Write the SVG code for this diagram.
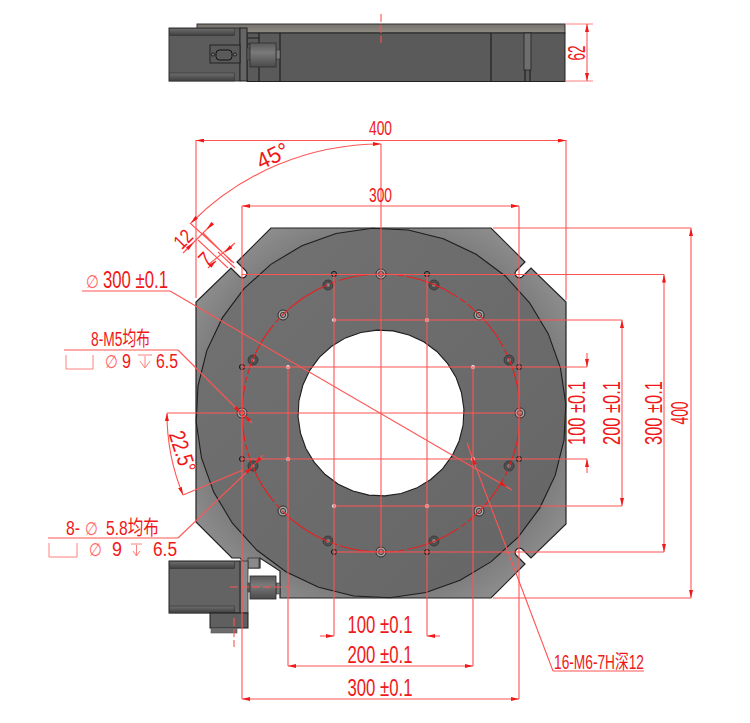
<svg xmlns="http://www.w3.org/2000/svg" width="750" height="723" viewBox="0 0 750 723">
<style>
.t{font-family:"Liberation Sans","Noto Sans CJK SC",sans-serif;font-size:20px;fill:#f01818}
.l{font-size:23px}
.c{text-anchor:middle}
.p{font-family:"DejaVu Sans",sans-serif;font-size:18px;fill:#ff6a6a}
.d{fill:none;stroke:#ff5454;stroke-width:1.1}
.m{marker-end:url(#a)}
.b{marker-start:url(#a);marker-end:url(#a)}
.s{fill:none;stroke:#ff8080;stroke-width:1}
.k{fill:none;stroke:#1c1c1c;stroke-width:1.1}
.ring{fill:#a5a5a5;stroke:#222;stroke-width:.9}
.ringi{fill:#9a9a9a;stroke:#222;stroke-width:.8}
.dk{fill:#505050;stroke:#333;stroke-width:.8}
.dki{fill:#8a8a8a;stroke:#333;stroke-width:.5}
.o{fill:#666;stroke:#111;stroke-width:.9}
.w{fill:#eee;stroke:#555;stroke-width:.8}
</style>
<defs>
<marker id="a" viewBox="0 0 8 4" refX="8" refY="2" markerWidth="8" markerHeight="4" markerUnits="userSpaceOnUse" orient="auto-start-reverse"><path d="M0 0L8 2L0 4z" fill="#f01818"/></marker>
<radialGradient id="pl" gradientUnits="userSpaceOnUse" cx="381" cy="413" r="265"><stop offset=".68" stop-color="#7c7c7c"/><stop offset="1" stop-color="#a6a6a6"/></radialGradient>
<linearGradient id="dc" x1="0" y1="0" x2="1" y2="1"><stop offset="0" stop-color="#727272"/><stop offset="1" stop-color="#656565"/></linearGradient>
<linearGradient id="band" x1="0" y1="0" x2="0" y2="1"><stop offset="0" stop-color="#6e6e6e"/><stop offset="1" stop-color="#3f3f3f"/></linearGradient>
<linearGradient id="cp" x1="0" y1="0" x2="0" y2="1"><stop offset="0" stop-color="#5a5a5a"/><stop offset=".4" stop-color="#7a7a7a"/><stop offset="1" stop-color="#4a4a4a"/></linearGradient>
<linearGradient id="top" x1="0" y1="0" x2="0" y2="1"><stop offset="0" stop-color="#74716c"/><stop offset="1" stop-color="#8f8c86"/></linearGradient>
</defs>

<g id="top-view">
<rect x="197" y="24" width="368" height="9" fill="url(#top)" stroke="#333" stroke-width="1"/>
<rect x="247" y="33" width="318" height="48.500" fill="#5a5a5a" stroke="#222" stroke-width="1"/>
<path d="M280 33V81M491 33V81" class="k"/>
<rect x="524" y="33" width="7" height="37" fill="#6e6e6e" stroke="#222" stroke-width=".8"/>
<path d="M525 70V81M530 70V81" class="k"/>
<path d="M248 38H259V81M259 38V33M248 44H258" class="k" stroke-width=".8"/>
<rect x="169" y="28" width="71" height="53" fill="#5c5c5c" stroke="#333" stroke-width="1"/>
<rect x="169.500" y="28.500" width="65" height="7" fill="url(#band)" stroke="#333" stroke-width=".6"/>
<rect x="169.500" y="73" width="65" height="8" fill="url(#band)" stroke="#333" stroke-width=".6"/>
<rect x="240" y="28" width="7" height="53" fill="#656565" stroke="#222" stroke-width="1"/>
<rect x="210" y="45" width="30" height="18" fill="#5a5a5a" stroke="#222" stroke-width="1"/>
<rect x="216" y="50" width="16" height="10" rx="3.500" fill="#5a5a5a" stroke="#111" stroke-width="1"/>
<circle cx="213" cy="54.500" r="1.600" fill="#777" stroke="#111" stroke-width=".8"/>
<circle cx="235" cy="54.500" r="1.600" fill="#777" stroke="#111" stroke-width=".8"/>
<rect x="276" y="50" width="4" height="9" fill="#7c7c7c" stroke="#333" stroke-width=".6"/>
<rect x="247" y="48" width="4" height="12" fill="#555" stroke="#333" stroke-width=".6"/>
<rect x="250" y="43" width="26" height="24" fill="url(#cp)" stroke="#333" stroke-width=".9"/>
</g>

<g id="plate">
<path d="M271 228H491L525 262L516 271A4.300 4.300 0 0 0 522 277L531 268L566 302V524L531 558L522 549A4.300 4.300 0 0 0 516 555L525 564L491 598H280V571L260 558V568H248L240 558H232L196 522V302L231 268L240 277A4.300 4.300 0 0 0 246 271L237 262Z" fill="url(#pl)" stroke="#222" stroke-width="1.200"/>
<rect x="248" y="558" width="11" height="10" fill="#8a8a8a" stroke="#333" stroke-width=".8"/>
</g>

<g id="disc">
<path fill="url(#dc)" stroke="#1d1d1d" stroke-width="1.100" d="M390 597.800L425.900 592.500L460.100 580.300L491.200 561.600L518 537.300L539.700 508.100L555.200 475.400L564 440.200L565.800 404L560.500 368.100L548.300 333.900L529.600 302.800L505.300 276L476.100 254.300L443.400 238.800L408.200 230L372 228.200L336.100 233.500L301.900 245.700L270.800 264.400L244 288.700L222.300 317.900L206.800 350.600L198 385.800L196.200 422L201.500 457.900L213.700 492.100L232.400 523.200L256.700 550L285.900 571.700L318.600 587.200L353.800 596Z"/>
<path fill="#fff" stroke="#1d1d1d" stroke-width="1.100" d="M385 495.900L401.100 493.500L416.500 488.100L430.400 479.700L442.500 468.800L452.200 455.700L459.100 441L463.100 425.200L463.900 409L461.500 392.900L456.100 377.500L447.700 363.600L436.800 351.500L423.700 341.800L409 334.900L393.200 330.900L377 330.100L360.900 332.500L345.500 337.900L331.600 346.300L319.500 357.200L309.800 370.300L302.900 385L298.900 400.800L298.100 417L300.500 433.100L305.900 448.500L314.300 462.400L325.200 474.500L338.300 484.200L353 491.100L368.800 495.100Z"/>
</g>

<g id="holes">
<g id="ring-holes">
<circle cx="381" cy="274" r="5" class="ring"/><circle cx="381" cy="274" r="2.600" class="ringi"/>
<circle cx="479" cy="315" r="5" class="ring"/><circle cx="479" cy="315" r="2.600" class="ringi"/>
<circle cx="520" cy="413" r="5" class="ring"/><circle cx="520" cy="413" r="2.600" class="ringi"/>
<circle cx="479" cy="511" r="5" class="ring"/><circle cx="479" cy="511" r="2.600" class="ringi"/>
<circle cx="381" cy="552" r="5" class="ring"/><circle cx="381" cy="552" r="2.600" class="ringi"/>
<circle cx="283" cy="511" r="5" class="ring"/><circle cx="283" cy="511" r="2.600" class="ringi"/>
<circle cx="242" cy="413" r="5" class="ring"/><circle cx="242" cy="413" r="2.600" class="ringi"/>
<circle cx="283" cy="315" r="5" class="ring"/><circle cx="283" cy="315" r="2.600" class="ringi"/>
</g>
<g id="counterbore-holes">
<circle cx="434" cy="285" r="5" class="dk"/><circle cx="434" cy="285" r="2.300" class="dki"/>
<circle cx="509" cy="360" r="5" class="dk"/><circle cx="509" cy="360" r="2.300" class="dki"/>
<circle cx="509" cy="466" r="5" class="dk"/><circle cx="509" cy="466" r="2.300" class="dki"/>
<circle cx="434" cy="541" r="5" class="dk"/><circle cx="434" cy="541" r="2.300" class="dki"/>
<circle cx="328" cy="541" r="5" class="dk"/><circle cx="328" cy="541" r="2.300" class="dki"/>
<circle cx="253" cy="466" r="5" class="dk"/><circle cx="253" cy="466" r="2.300" class="dki"/>
<circle cx="253" cy="360" r="5" class="dk"/><circle cx="253" cy="360" r="2.300" class="dki"/>
<circle cx="328" cy="285" r="5" class="dk"/><circle cx="328" cy="285" r="2.300" class="dki"/>
</g>
<g id="grid-holes">
<circle cx="334" cy="274" r="2.600" class="o"/><circle cx="427" cy="274" r="2.600" class="o"/>
<circle cx="242" cy="367" r="2.600" class="o"/><circle cx="519" cy="367" r="2.600" class="o"/>
<circle cx="242" cy="459" r="2.600" class="o"/><circle cx="519" cy="459" r="2.600" class="o"/>
<circle cx="334" cy="552" r="2.600" class="o"/><circle cx="427" cy="552" r="2.600" class="o"/>
<circle cx="334" cy="320" r="2.500" class="w"/><circle cx="427" cy="320" r="2.500" class="w"/>
<circle cx="288" cy="367" r="2.500" class="w"/><circle cx="473" cy="367" r="2.500" class="w"/>
<circle cx="288" cy="459" r="2.500" class="w"/><circle cx="473" cy="459" r="2.500" class="w"/>
<circle cx="334" cy="506" r="2.500" class="w"/><circle cx="427" cy="506" r="2.500" class="w"/>
</g>
</g>

<g id="motor">
<rect x="240" y="561" width="8" height="52" fill="#8a8a8a" stroke="#333" stroke-width=".8"/>
<rect x="169" y="561" width="71" height="52" fill="#636363" stroke="#222" stroke-width="1"/>
<rect x="169.500" y="561.500" width="65" height="7" fill="url(#band)" stroke="#333" stroke-width=".6"/>
<rect x="169.500" y="606" width="65" height="7" fill="url(#band)" stroke="#333" stroke-width=".6"/>
<rect x="210" y="613" width="38" height="15" fill="#5f5f5f" stroke="#1c1c1c" stroke-width="1"/>
<rect x="211" y="628" width="26" height="5" fill="#6d6d6d" stroke="#555" stroke-width=".6"/>
<rect x="248" y="583" width="3" height="9" fill="#666" stroke="#333" stroke-width=".6"/>
<rect x="276" y="583" width="4" height="11" fill="#777" stroke="#333" stroke-width=".6"/>
<rect x="250" y="576" width="26" height="23" fill="url(#cp)" stroke="#333" stroke-width=".9"/>
</g>

<g id="connectors">
<path class="d" stroke-dasharray="8 3" d="M381 14V43"/>
<path class="s" d="M566 24H593M566 81H593"/>
<path class="d b" d="M587 24V81"/>
<circle cx="381" cy="413" r="139" fill="none" stroke="#ee1c1c" stroke-width="1.100" stroke-dasharray="56 3 6 3"/>
<path class="d" d="M196 140V298M566 140V300M381 144V552M167 413H519M493 228H691M493 598H691M242 274.500H664M334 552H664M334 320H622M334 506H622M242 367H587M242 459H587M334 274V636M427 274V636M288 367V666M473 367V666M242 206V699M519 206V699"/>
<path class="d b" d="M196 140.500H566"/>
<path class="d b" d="M242 206H519"/>
<path class="d m" d="M587 353V367"/>
<path class="d m" d="M587 473V459"/>
<path class="d b" d="M622 320V506"/>
<path class="d b" d="M664 274.500V552"/>
<path class="d b" d="M691 228V598"/>
<path class="d m" d="M320 636H334"/>
<path class="d m" d="M440 636H427"/>
<path class="d b" d="M288 666H473"/>
<path class="d b" d="M242 699H519"/>
<path class="d b" d="M191 223A268.700 268.700 0 0 1 381 144"/>
<path class="d b" d="M167 413A214 214 0 0 0 183 495"/>
<path class="d" d="M183 495L243 470"/>
<path class="d" d="M190 223L234 263M203 233L232 262M198 240L228 268M218 252L235 268"/>
<path class="d" d="M183 253L213 223M208 265L235 243"/>
<path class="d m" d="M186 250L193 243"/>
<path class="d m" d="M213 223L207 229"/>
<path class="d m" d="M208 268L216 261"/>
<path class="d m" d="M233 245L225 252"/>
<path class="d m" d="M170 291L507 487"/>
<path class="d" d="M82 291H170M507 487L512 490"/>
<path class="d" d="M64 350H178"/>
<path class="d m" d="M178 350L241 413"/>
<path class="d m" d="M252 423L244 415"/>
<path class="d" d="M48 538H178"/>
<path class="d m" d="M178 538L252 467"/>
<path class="d m" d="M263 455L255 464"/>
<path class="d" d="M644 671H553"/>
<path class="d m" d="M553 671L472 457"/>
<path class="d" d="M472 457L467 443"/>
<path class="d" stroke-dasharray="8 3" d="M230 587H289M234 618V647"/>
<path class="s" d="M66 355V369H93V355M49 543V557H77V543M138 355H152M145 356V368M140 361L145 368L150 361M131 544H142M136.500 545V556M133 551L136.500 556L140 551"/>
</g>

<g id="labels">
<text class="t c" x="380.500" y="135" textLength="23" lengthAdjust="spacingAndGlyphs">400</text>
<text class="t c" x="380.500" y="202" textLength="23" lengthAdjust="spacingAndGlyphs">300</text>
<text class="t l c" transform="translate(276 163) rotate(-25)" textLength="33" lengthAdjust="spacingAndGlyphs">45°</text>
<text class="t c" transform="translate(188 244) rotate(-45)" textLength="18" lengthAdjust="spacingAndGlyphs">12</text>
<text class="t c" transform="translate(210 264) rotate(-45)" textLength="10" lengthAdjust="spacingAndGlyphs">7</text>
<text class="p" x="86" y="288" textLength="13" lengthAdjust="spacingAndGlyphs">∅</text>
<text class="t l" x="103" y="288" textLength="65" lengthAdjust="spacingAndGlyphs">300 ±0.1</text>
<text class="t" x="91" y="346" textLength="59" lengthAdjust="spacingAndGlyphs">8-M5均布</text>
<text class="p" x="105" y="368" textLength="13" lengthAdjust="spacingAndGlyphs">∅</text>
<text class="t" x="122" y="368" textLength="9" lengthAdjust="spacingAndGlyphs">9</text>
<text class="t" x="156" y="368" textLength="22" lengthAdjust="spacingAndGlyphs">6.5</text>
<text class="t l c" transform="translate(175 454) rotate(72)" textLength="42" lengthAdjust="spacingAndGlyphs">22.5°</text>
<text class="t" x="66" y="535" textLength="14" lengthAdjust="spacingAndGlyphs">8-</text>
<text class="p" x="85" y="535" textLength="13" lengthAdjust="spacingAndGlyphs">∅</text>
<text class="t" x="106" y="535" textLength="53" lengthAdjust="spacingAndGlyphs">5.8均布</text>
<text class="p" x="89" y="556" textLength="13" lengthAdjust="spacingAndGlyphs">∅</text>
<text class="t" x="112" y="556" textLength="10" lengthAdjust="spacingAndGlyphs">9</text>
<text class="t" x="153" y="556" textLength="24" lengthAdjust="spacingAndGlyphs">6.5</text>
<text class="t l c" transform="translate(585 53) rotate(-90)" textLength="15" lengthAdjust="spacingAndGlyphs">62</text>
<text class="t l c" transform="translate(585 413) rotate(-90)" textLength="64" lengthAdjust="spacingAndGlyphs">100 ±0.1</text>
<text class="t l c" transform="translate(620 413) rotate(-90)" textLength="64" lengthAdjust="spacingAndGlyphs">200 ±0.1</text>
<text class="t l c" transform="translate(662 413) rotate(-90)" textLength="64" lengthAdjust="spacingAndGlyphs">300 ±0.1</text>
<text class="t l c" transform="translate(688 413) rotate(-90)" textLength="23" lengthAdjust="spacingAndGlyphs">400</text>
<text class="t l c" x="380" y="633" textLength="65" lengthAdjust="spacingAndGlyphs">100 ±0.1</text>
<text class="t l c" x="380" y="663" textLength="65" lengthAdjust="spacingAndGlyphs">200 ±0.1</text>
<text class="t l c" x="380" y="696" textLength="65" lengthAdjust="spacingAndGlyphs">300 ±0.1</text>
<text class="t" x="554" y="669" textLength="90" lengthAdjust="spacingAndGlyphs">16-M6-7H深12</text>
</g>
</svg>
